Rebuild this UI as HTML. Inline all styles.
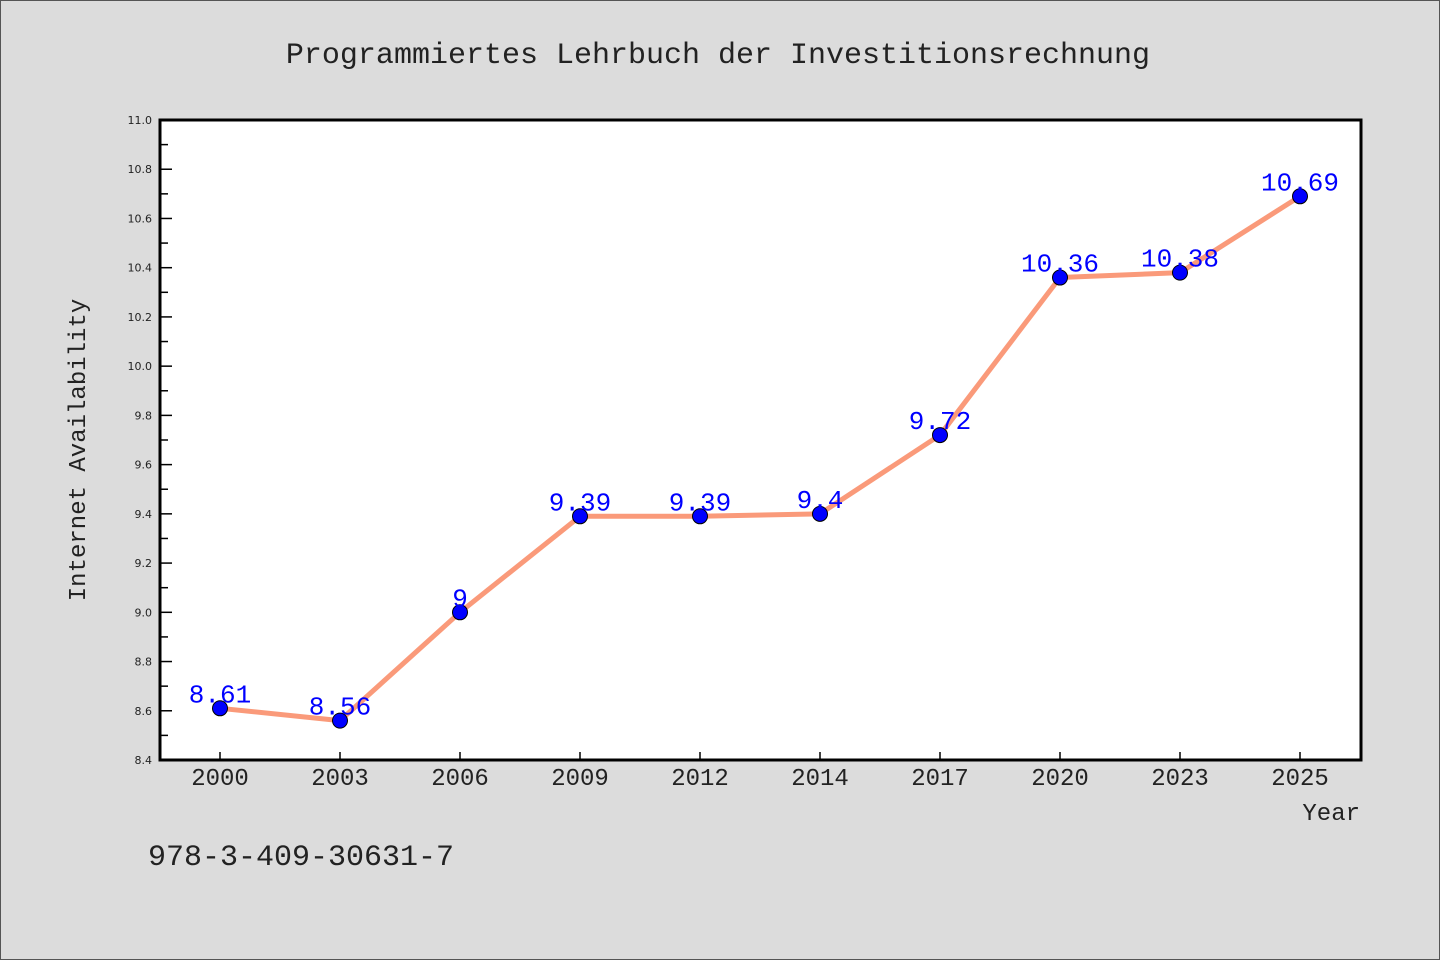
<!DOCTYPE html>
<html><head><meta charset="utf-8"><style>
html,body{margin:0;padding:0;background:#dcdcdc;}
svg{display:block;font-family:"Liberation Mono","DejaVu Sans Mono",monospace;}
</style></head><body>
<svg id="chart" width="1440" height="960" xmlns="http://www.w3.org/2000/svg">
<rect x="0.5" y="0.5" width="1439" height="959" fill="#dcdcdc" stroke="#555"/>
<text x="718" y="63" text-anchor="middle" font-size="30" fill="#222">Programmiertes Lehrbuch der Investitionsrechnung</text>
<rect x="160" y="120" width="1201" height="640" fill="#fff"/>
<g id="ticks"></g>
<g id="series"></g>
<rect x="160" y="120" width="1201" height="640" fill="none" stroke="#000" stroke-width="3"/>
<text x="85" y="450" text-anchor="middle" font-size="24" fill="#222" transform="rotate(-90 85 450)">Internet Availability</text>
<text x="1360" y="820" text-anchor="end" font-size="24" fill="#222">Year</text>
<text x="148" y="865" font-size="30" fill="#222">978-3-409-30631-7</text>
</svg>
<script>
const categories = ["2000","2003","2006","2009","2012","2014","2017","2020","2023","2025"];
const values = [8.61,8.56,9.0,9.39,9.39,9.4,9.72,10.36,10.38,10.69];
const valueLabels = ["8.61","8.56","9","9.39","9.39","9.4","9.72","10.36","10.38","10.69"];
const yTicks = ["8.4","8.6","8.8","9.0","9.2","9.4","9.6","9.8","10.0","10.2","10.4","10.6","10.8","11.0"];
const NS="http://www.w3.org/2000/svg";
const X0=160,W=1201,Y0=120,H=640,YMIN=8.4,YMAX=11.0;
const xs=i=>X0+60+i*(1200/categories.length);
const ys=v=>Y0+H-(v-YMIN)/(YMAX-YMIN)*H;
function mk(t,a,p){const e=document.createElementNS(NS,t);for(const k in a)e.setAttribute(k,a[k]);p.appendChild(e);return e;}
const tg=document.getElementById('ticks');
yTicks.forEach((t,i)=>{
 const v=parseFloat(t),y=ys(v);
 const l=mk('line',{x1:X0,x2:X0+12,y1:y,y2:y,stroke:'#000','stroke-width':1.5},tg);
 
 
 const tx=mk('text',{x:X0-8,y:y+4,'text-anchor':'end','font-size':11,fill:'#222','font-family':'"DejaVu Sans","Liberation Sans",sans-serif'},tg);
 tx.textContent=t;
 
 
 if(i<yTicks.length-1){const ym=ys(v+0.1);
  const m=mk('line',{x1:X0,x2:X0+8,y1:ym,y2:ym,stroke:'#000','stroke-width':1.5},tg);
  
  }
});
categories.forEach((c,i)=>{
 const x=xs(i);
 const l=mk('line',{x1:x,x2:x,y1:Y0+H,y2:Y0+H-8,stroke:'#000','stroke-width':1.5},tg);
 
 
 const t=mk('text',{x:x,y:Y0+H+25,'text-anchor':'middle','font-size':24,fill:'#222'},tg);
 t.textContent=c;
 
 
});
const sg=document.getElementById('series');
const line=mk('polyline',{points:values.map((v,i)=>xs(i)+','+ys(v)).join(' '),fill:'none',stroke:'#fa9a7a','stroke-width':5,'stroke-linejoin':'round'},sg);


values.forEach((v,i)=>{
 const c=mk('circle',{cx:xs(i),cy:ys(v),r:7.5,fill:'#0000ff',stroke:'#000','stroke-width':1},sg);
 
 
 const t=mk('text',{x:xs(i),y:ys(v)-6,'text-anchor':'middle','font-size':26,fill:'#0000ff'},sg);
 t.textContent=valueLabels[i];
 
 
});
</script>
</body></html>
